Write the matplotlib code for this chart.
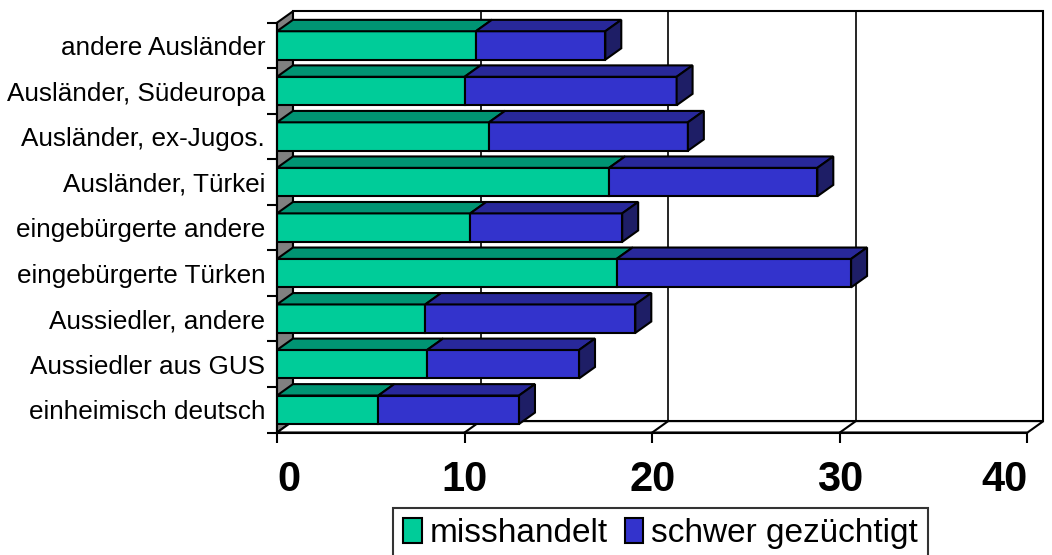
import matplotlib
matplotlib.use("Agg")
import matplotlib.pyplot as plt
from matplotlib.patches import Polygon, Patch

plt.rcParams['font.family'] = ['Liberation Sans', 'DejaVu Sans']

# groups, bottom to top
categories = ["einheimisch deutsch", "Aussiedler aus GUS", "Aussiedler, andere",
              "eingebürgerte Türken", "eingebürgerte andere", "Ausländer, Türkei",
              "Ausländer, ex-Jugos.", "Ausländer, Südeuropa", "andere Ausländer"]
misshandelt = [5.4, 8.0, 7.9, 18.1, 10.3, 17.7, 11.3, 10.0, 10.6]
gezuechtigt = [7.5, 8.1, 11.2, 12.5, 8.1, 11.1, 10.6, 11.3, 6.9]
series_names = ["misshandelt", "schwer gezüchtigt"]
x_ticks = [0, 10, 20, 30, 40]

# front / top / side shades per series
front = ["#00CC99", "#3333CC"]
top = ["#009473", "#28289A"]
side = ["#007A5E", "#1E1E66"]

XMAX = 40
DX, DY = 0.85, 0.25      # depth offset of the 3d look (data units)
H = 0.625                # bar thickness

fig = plt.figure(figsize=(10.52, 5.55), dpi=100)
ax = fig.add_axes([0.2633, 0.2207, 0.7134, 0.7384])
ax.set_xlim(0, XMAX)
ax.set_ylim(-0.5, len(categories) - 0.5)
ax.patch.set_visible(False)

ylo, yhi = -0.5, len(categories) - 0.5
lw = 1.5

# back wall with gridlines
ax.add_patch(Polygon([(DX, ylo + DY), (XMAX + DX, ylo + DY), (XMAX + DX, yhi + DY), (DX, yhi + DY)],
                     closed=True, facecolor="white", edgecolor="black", lw=lw, zorder=0.5, clip_on=False))
for t in x_ticks[1:-1]:
    ax.plot([t + DX, t + DX], [ylo + DY, yhi + DY], color="black", lw=1.2, zorder=0.6, clip_on=False)

# left wall
ax.add_patch(Polygon([(0, ylo), (DX, ylo + DY), (DX, yhi + DY), (0, yhi)],
                     closed=True, facecolor="#808080", edgecolor="black", lw=lw, zorder=0.7, clip_on=False))
# floor
ax.add_patch(Polygon([(0, ylo), (XMAX, ylo), (XMAX + DX, ylo + DY), (DX, ylo + DY)],
                     closed=True, facecolor="white", edgecolor="black", lw=lw, zorder=0.8, clip_on=False))
for t in x_ticks[1:-1]:
    ax.plot([t, t + DX], [ylo, ylo + DY], color="black", lw=lw, zorder=0.9, clip_on=False)

# stacked bars: front faces
ypos = list(range(len(categories)))
ax.barh(ypos, misshandelt, height=H, color=front[0], edgecolor="black", lw=lw, zorder=3)
ax.barh(ypos, gezuechtigt, left=misshandelt, height=H, color=front[1], edgecolor="black", lw=lw, zorder=3)

# top and end faces
for y, a, b in zip(ypos, misshandelt, gezuechtigt):
    yt, yb = y + H / 2, y - H / 2
    for i, (x0, x1) in enumerate([(0, a), (a, a + b)]):
        ax.add_patch(Polygon([(x0, yt), (x1, yt), (x1 + DX, yt + DY), (x0 + DX, yt + DY)],
                             closed=True, facecolor=top[i], edgecolor="black", lw=lw, zorder=3, clip_on=False))
    end = a + b
    ax.add_patch(Polygon([(end, yb), (end, yt), (end + DX, yt + DY), (end + DX, yb + DY)],
                         closed=True, facecolor=side[1], edgecolor="black", lw=lw, zorder=3, clip_on=False))

# axes
for s in ["top", "right"]:
    ax.spines[s].set_visible(False)
for s in ["left", "bottom"]:
    ax.spines[s].set_linewidth(lw)
    ax.spines[s].set_zorder(4)

ax.set_yticks(ypos)
ax.set_yticklabels(categories, fontsize=18.8)
ax.set_yticks([v - 0.5 for v in range(len(categories) + 1)], minor=True)
ax.tick_params(axis="y", which="major", length=0, pad=8.5)
ax.tick_params(axis="y", which="minor", length=7, width=lw, direction="out")

ax.set_xticks(x_ticks)
ax.set_xticklabels([str(t) for t in x_ticks], fontsize=30, fontweight="bold")
ax.tick_params(axis="x", length=7, width=lw, direction="out", pad=13)
xlabels = ax.get_xticklabels()
xlabels[0].set_horizontalalignment("left")
xlabels[-1].set_horizontalalignment("right")

handles = [Patch(facecolor=front[0], edgecolor="black", lw=lw),
           Patch(facecolor=front[1], edgecolor="black", lw=lw)]
leg = fig.legend(handles, series_names, loc="upper center", bbox_to_anchor=(0.628, 0.085),
                 ncol=2, fontsize=24, frameon=True, fancybox=False, edgecolor="black",
                 handlelength=0.55, handleheight=0.8, handletextpad=0.25, columnspacing=0.5,
                 borderpad=0.3, borderaxespad=0)
leg.get_frame().set_linewidth(1.5)

fig.savefig("out.png", dpi=100)
